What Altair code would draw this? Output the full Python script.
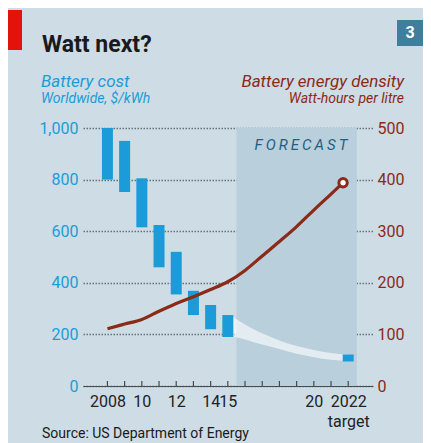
import altair as alt
import pandas as pd

# ---- data ----
bar_years = [2008, 2009, 2010, 2011, 2012, 2013, 2014, 2015, 2022]
cost_low = [800, 752, 615, 460, 355, 275, 220, 190, 95]
cost_high = [1000, 950, 805, 624, 520, 369, 314, 275, 122]

band_years = [2015.3, 2016.0, 2016.5, 2017.5, 2018.5, 2019.5, 2020.5, 2021.5, 2022.0]
band_top = [268, 238, 220, 190, 165, 147, 133, 124, 121]
band_bottom = [192, 180, 170, 152, 134, 118, 106, 99, 97]

dens_years = [2008, 2009, 2010, 2011, 2012, 2013, 2014, 2015, 2016, 2017, 2018, 2019, 2020, 2021, 2021.7]
density = [111, 120, 129, 145, 160, 173, 187, 202, 224, 252, 280, 309, 341, 372, 394]

forecast_start = [2015.5]
forecast_end = [2022.5]

tick_years = list(range(2008, 2023))
label_values = [2008, 2010, 2012, 2014, 2015, 2020, 2022]
label_texts = ["2008", "10", "12", "14", "15", "20", "2022\ntarget"]

left_ticks = [0, 200, 400, 600, 800, 1000]
right_ticks = [0, 100, 200, 300, 400, 500]

# ---- styling ----
W, H = 290, 258
BG = "#cddce5"
FORE = "#b9cfdc"
CYAN = "#1b9cd8"
RED = "#8b2a17"
FONT = "Roboto"

def lbl(t):
    parts = t.split("\n")
    if len(parts) == 1:
        return "'" + t + "'"
    return "[" + ",".join("'" + p + "'" for p in parts) + "]"

expr = "''"
for v, t in reversed(list(zip(label_values, label_texts))):
    expr = f"datum.value == {v} ? {lbl(t)} : ({expr})"

xscale = alt.Scale(domain=[2006.87, 2023.15], nice=False, zero=False)
xaxis = alt.Axis(values=label_values, labelExpr=expr, title=None, grid=False,
                 ticks=False, domain=True, domainColor="#4a4a4a", domainWidth=1.2,
                 labelFontSize=16, labelColor="#222222", labelFont=FONT,
                 labelPadding=7, labelLineHeight=20, labelOverlap=False,
                 labelFlush=False, labelBound=False)

def X(f):
    return alt.X(f, type="quantitative", scale=xscale, axis=xaxis)

lscale = alt.Scale(domain=[0, 1000], nice=False, zero=True)
laxis = alt.Axis(values=left_ticks, format=",d", title=None, ticks=False, domain=False,
                 grid=True, gridDash=[1.5, 1.5], gridColor="#66737a", gridWidth=1.3,
                 labelColor=CYAN, labelFontSize=16, labelFont=FONT, labelPadding=5)

def YL(f):
    return alt.Y(f, type="quantitative", scale=lscale, axis=laxis)

rscale = alt.Scale(domain=[0, 500], nice=False, zero=True)
raxis = alt.Axis(values=right_ticks, orient="right", title=None, ticks=False, domain=False,
                 grid=False, labelColor=RED, labelFontSize=16, labelFont=FONT, labelPadding=4)

bars_df = pd.DataFrame({"year": bar_years, "low": cost_low, "high": cost_high})
band_df = pd.DataFrame({"year": band_years, "top": band_top, "bottom": band_bottom})
dens_df = pd.DataFrame({"year": dens_years, "d": density})
fc_df = pd.DataFrame({"s": forecast_start, "e": forecast_end})
tick_df = pd.DataFrame({"year": tick_years})

forecast = alt.Chart(fc_df).mark_rect(color=FORE).encode(
    x=X("s"), x2="e", y=alt.value(0), y2=alt.value(H))

band = alt.Chart(band_df).mark_area(color="white", opacity=0.6, interpolate="monotone").encode(
    x=X("year"), y=YL("top"), y2="bottom")

bars = alt.Chart(bars_df).mark_bar(color=CYAN, size=11).encode(
    x=X("year"), y=YL("low"), y2="high")

ticks = alt.Chart(tick_df).mark_rule(color="#4a4a4a", strokeWidth=1.2).encode(
    x=X("year"), y=alt.value(H - 5), y2=alt.value(H))

def txt(s, x, y, size, color, weight="normal", style="normal", align="left", baseline="alphabetic"):
    return alt.Chart(pd.DataFrame({"t": [s]})).mark_text(
        align=align, baseline=baseline, fontSize=size, font=FONT, fontWeight=weight,
        fontStyle=style, color=color).encode(text="t:N", x=alt.value(x), y=alt.value(y))

red_tag = alt.Chart(pd.DataFrame({"a": [0]})).mark_rect(color="#e3120b").encode(
    x=alt.value(-75), x2=alt.value(-61), y=alt.value(-118), y2=alt.value(-78))
num_box = alt.Chart(pd.DataFrame({"a": [0]})).mark_rect(color="#3f7f9d").encode(
    x=alt.value(314), x2=alt.value(340), y=alt.value(-108), y2=alt.value(-82))

texts = [
    red_tag, num_box,
    txt("3", 327, -95, 16, "white", weight="bold", align="center", baseline="middle"),
    txt("Watt next?", -41, -76, 23, "#1a1a1a", weight="bold"),
    txt("Battery cost", -42, -41, 17, CYAN, style="italic"),
    txt("Worldwide, $/kWh", -42, -25, 14, CYAN, style="italic"),
    txt("Battery energy density", 321, -41, 17, RED, style="italic", align="right"),
    txt("Watt-hours per litre", 321, -25, 14, RED, style="italic", align="right"),
    txt("F\u2009O\u2009R\u2009E\u2009C\u2009A\u2009S\u2009T", 218, 22, 15, "#1f5f80", style="italic", align="center"),
    txt("Source: US Department of Energy", -41, 310, 14, "#1a1a1a"),
]

left = alt.layer(forecast, band, bars, ticks, *texts)

line = alt.Chart(dens_df).mark_line(color=RED, strokeWidth=3.2, interpolate="monotone").encode(
    x=X("year"), y=alt.Y("d", type="quantitative", scale=rscale, axis=raxis))
endpt = alt.Chart(dens_df.tail(1)).mark_point(shape="circle", filled=True, fill="white",
                                               stroke=RED, strokeWidth=3, size=70, opacity=1).encode(
    x=X("year"), y=alt.Y("d", type="quantitative", scale=rscale, axis=raxis))
right = alt.layer(line, endpt)

chart = alt.layer(left, right).resolve_scale(y="independent").properties(
    width=W, height=H,
    autosize=alt.AutoSizeParams(type="none"),
    padding={"left": 75, "top": 120, "right": 50, "bottom": 57},
    background=BG,
).configure_view(stroke=None)

chart.save("out.html", embed_options={"renderer": "svg", "actions": False})
